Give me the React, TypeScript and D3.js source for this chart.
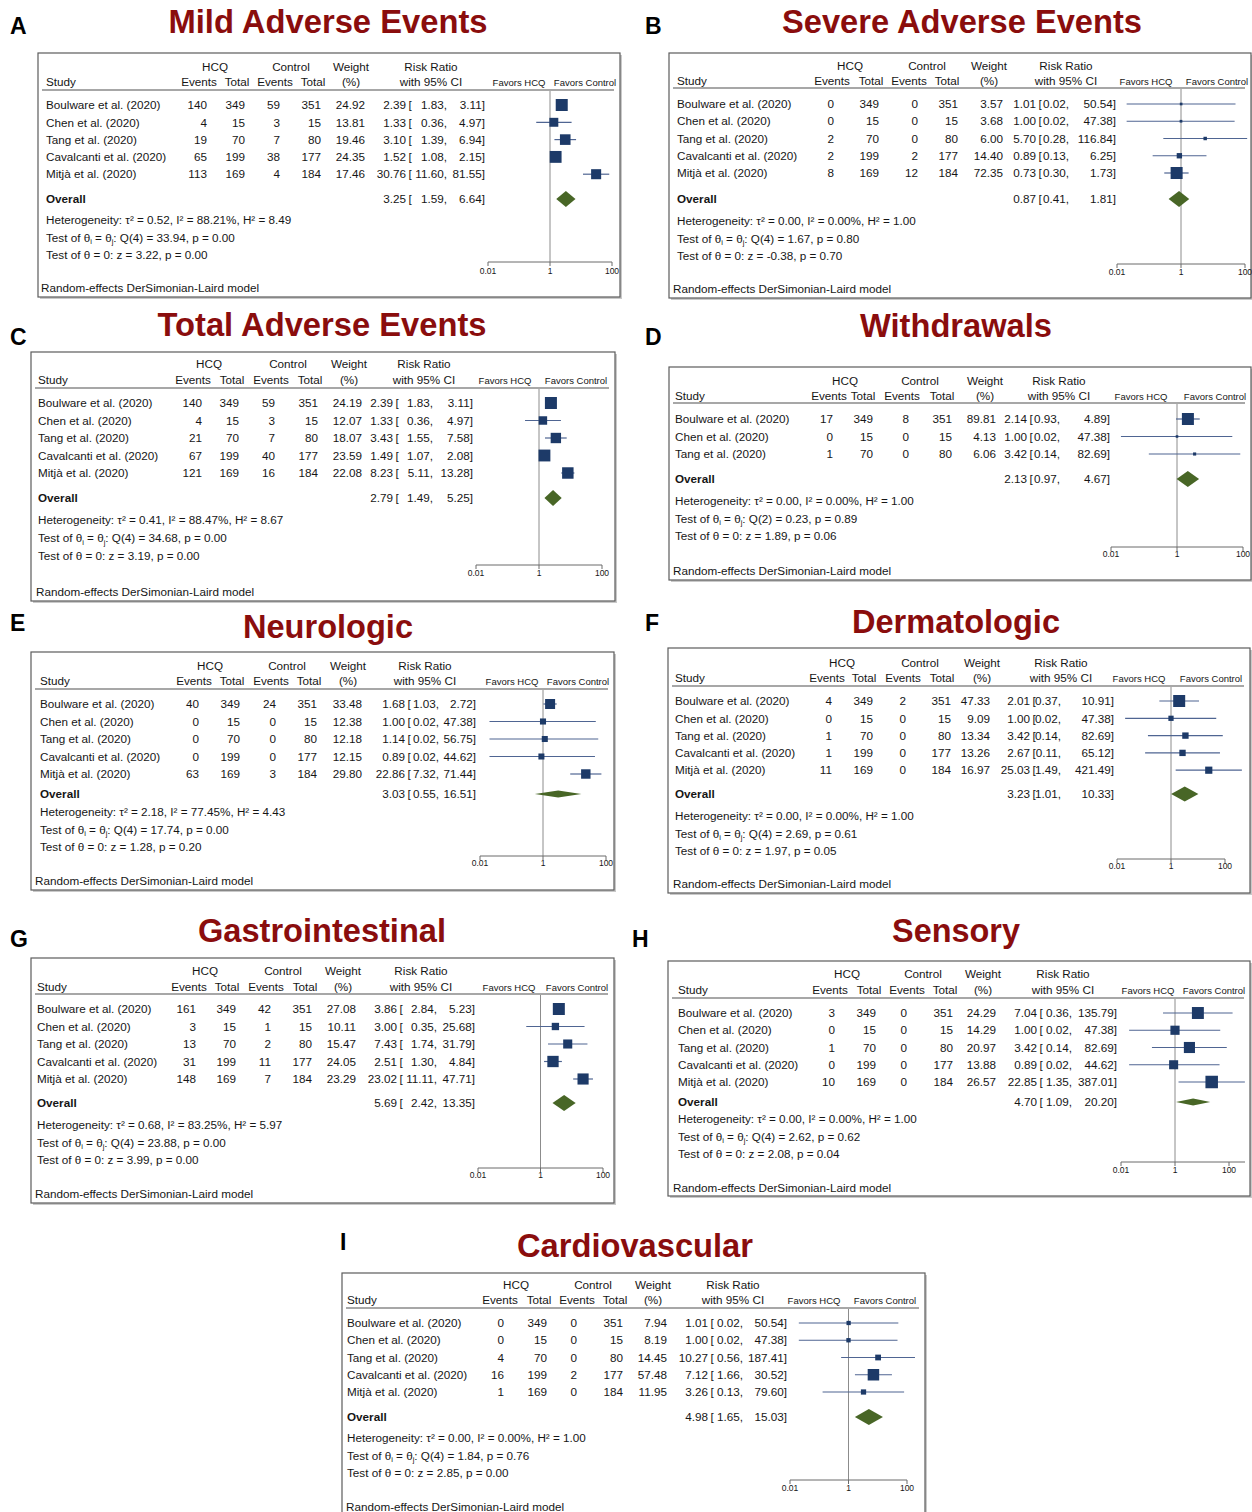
import React from "react";
import * as d3 from "d3";

// ---------- shared data ----------
const studyNames = [
  "Boulware et al. (2020)",
  "Chen et al. (2020)",
  "Tang et al. (2020)",
  "Cavalcanti et al. (2020)",
  "Mitjà et al. (2020)",
];
const hcqTotals = [349, 15, 70, 199, 169];
const controlTotals = [351, 15, 80, 177, 184];
const axisTicks = [0.01, 1, 100];
const axisTickLabels = ["0.01", "1", "100"];

// stats arrays: [tau2, I2 (%), H2, Q df, Q, p(Q), z, p(z)]

// A — Mild adverse events
const mildHcqEvents = [140, 4, 19, 65, 113];
const mildCtrlEvents = [59, 3, 7, 38, 4];
const mildWeight = [24.92, 13.81, 19.46, 24.35, 17.46];
const mildRR = [2.39, 1.33, 3.1, 1.52, 30.76];
const mildLo = [1.83, 0.36, 1.39, 1.08, 11.6];
const mildHi = [3.11, 4.97, 6.94, 2.15, 81.55];
const mildOverall = [3.25, 1.59, 6.64];
const mildStats = [0.52, 88.21, 8.49, 4, 33.94, 0.0, 3.22, 0.0];

// B — Severe adverse events
const severeHcqEvents = [0, 0, 2, 2, 8];
const severeCtrlEvents = [0, 0, 0, 2, 12];
const severeWeight = [3.57, 3.68, 6.0, 14.4, 72.35];
const severeRR = [1.01, 1.0, 5.7, 0.89, 0.73];
const severeLo = [0.02, 0.02, 0.28, 0.13, 0.3];
const severeHi = [50.54, 47.38, 116.84, 6.25, 1.73];
const severeOverall = [0.87, 0.41, 1.81];
const severeStats = [0.0, 0.0, 1.0, 4, 1.67, 0.8, -0.38, 0.7];

// C — Total adverse events
const totalHcqEvents = [140, 4, 21, 67, 121];
const totalCtrlEvents = [59, 3, 7, 40, 16];
const totalWeight = [24.19, 12.07, 18.07, 23.59, 22.08];
const totalRR = [2.39, 1.33, 3.43, 1.49, 8.23];
const totalLo = [1.83, 0.36, 1.55, 1.07, 5.11];
const totalHi = [3.11, 4.97, 7.58, 2.08, 13.28];
const totalOverall = [2.79, 1.49, 5.25];
const totalStats = [0.41, 88.47, 8.67, 4, 34.68, 0.0, 3.19, 0.0];

// D — Withdrawals (three trials)
const withdrawHcqEvents = [17, 0, 1];
const withdrawCtrlEvents = [8, 0, 0];
const withdrawWeight = [89.81, 4.13, 6.06];
const withdrawRR = [2.14, 1.0, 3.42];
const withdrawLo = [0.93, 0.02, 0.14];
const withdrawHi = [4.89, 47.38, 82.69];
const withdrawOverall = [2.13, 0.97, 4.67];
const withdrawStats = [0.0, 0.0, 1.0, 2, 0.23, 0.89, 1.89, 0.06];

// E — Neurologic
const neuroHcqEvents = [40, 0, 0, 0, 63];
const neuroCtrlEvents = [24, 0, 0, 0, 3];
const neuroWeight = [33.48, 12.38, 12.18, 12.15, 29.8];
const neuroRR = [1.68, 1.0, 1.14, 0.89, 22.86];
const neuroLo = [1.03, 0.02, 0.02, 0.02, 7.32];
const neuroHi = [2.72, 47.38, 56.75, 44.62, 71.44];
const neuroOverall = [3.03, 0.55, 16.51];
const neuroStats = [2.18, 77.45, 4.43, 4, 17.74, 0.0, 1.28, 0.2];

// F — Dermatologic
const dermHcqEvents = [4, 0, 1, 1, 11];
const dermCtrlEvents = [2, 0, 0, 0, 0];
const dermWeight = [47.33, 9.09, 13.34, 13.26, 16.97];
const dermRR = [2.01, 1.0, 3.42, 2.67, 25.03];
const dermLo = [0.37, 0.02, 0.14, 0.11, 1.49];
const dermHi = [10.91, 47.38, 82.69, 65.12, 421.49];
const dermOverall = [3.23, 1.01, 10.33];
const dermStats = [0.0, 0.0, 1.0, 4, 2.69, 0.61, 1.97, 0.05];

// G — Gastrointestinal
const giHcqEvents = [161, 3, 13, 31, 148];
const giCtrlEvents = [42, 1, 2, 11, 7];
const giWeight = [27.08, 10.11, 15.47, 24.05, 23.29];
const giRR = [3.86, 3.0, 7.43, 2.51, 23.02];
const giLo = [2.84, 0.35, 1.74, 1.3, 11.11];
const giHi = [5.23, 25.68, 31.79, 4.84, 47.71];
const giOverall = [5.69, 2.42, 13.35];
const giStats = [0.68, 83.25, 5.97, 4, 23.88, 0.0, 3.99, 0.0];

// H — Sensory
const sensHcqEvents = [3, 0, 1, 0, 10];
const sensCtrlEvents = [0, 0, 0, 0, 0];
const sensWeight = [24.29, 14.29, 20.97, 13.88, 26.57];
const sensRR = [7.04, 1.0, 3.42, 0.89, 22.85];
const sensLo = [0.36, 0.02, 0.14, 0.02, 1.35];
const sensHi = [135.79, 47.38, 82.69, 44.62, 387.01];
const sensOverall = [4.7, 1.09, 20.2];
const sensStats = [0.0, 0.0, 1.0, 4, 2.62, 0.62, 2.08, 0.04];

// I — Cardiovascular
const cardioHcqEvents = [0, 0, 4, 16, 1];
const cardioCtrlEvents = [0, 0, 0, 2, 0];
const cardioWeight = [7.94, 8.19, 14.45, 57.48, 11.95];
const cardioRR = [1.01, 1.0, 10.27, 7.12, 3.26];
const cardioLo = [0.02, 0.02, 0.56, 1.66, 0.13];
const cardioHi = [50.54, 47.38, 187.41, 30.52, 79.6];
const cardioOverall = [4.98, 1.65, 15.03];
const cardioStats = [0.0, 0.0, 1.0, 4, 1.84, 0.76, 2.85, 0.0];

const panels = [
  { letter: "A", title: "Mild Adverse Events", hcqEv: mildHcqEvents, ctrlEv: mildCtrlEvents, weight: mildWeight, rr: mildRR, lo: mildLo, hi: mildHi, overall: mildOverall, stats: mildStats },
  { letter: "B", title: "Severe Adverse Events", hcqEv: severeHcqEvents, ctrlEv: severeCtrlEvents, weight: severeWeight, rr: severeRR, lo: severeLo, hi: severeHi, overall: severeOverall, stats: severeStats },
  { letter: "C", title: "Total Adverse Events", hcqEv: totalHcqEvents, ctrlEv: totalCtrlEvents, weight: totalWeight, rr: totalRR, lo: totalLo, hi: totalHi, overall: totalOverall, stats: totalStats },
  { letter: "D", title: "Withdrawals", hcqEv: withdrawHcqEvents, ctrlEv: withdrawCtrlEvents, weight: withdrawWeight, rr: withdrawRR, lo: withdrawLo, hi: withdrawHi, overall: withdrawOverall, stats: withdrawStats },
  { letter: "E", title: "Neurologic", hcqEv: neuroHcqEvents, ctrlEv: neuroCtrlEvents, weight: neuroWeight, rr: neuroRR, lo: neuroLo, hi: neuroHi, overall: neuroOverall, stats: neuroStats },
  { letter: "F", title: "Dermatologic", hcqEv: dermHcqEvents, ctrlEv: dermCtrlEvents, weight: dermWeight, rr: dermRR, lo: dermLo, hi: dermHi, overall: dermOverall, stats: dermStats },
  { letter: "G", title: "Gastrointestinal", hcqEv: giHcqEvents, ctrlEv: giCtrlEvents, weight: giWeight, rr: giRR, lo: giLo, hi: giHi, overall: giOverall, stats: giStats },
  { letter: "H", title: "Sensory", hcqEv: sensHcqEvents, ctrlEv: sensCtrlEvents, weight: sensWeight, rr: sensRR, lo: sensLo, hi: sensHi, overall: sensOverall, stats: sensStats },
  { letter: "I", title: "Cardiovascular", hcqEv: cardioHcqEvents, ctrlEv: cardioCtrlEvents, weight: cardioWeight, rr: cardioRR, lo: cardioLo, hi: cardioHi, overall: cardioOverall, stats: cardioStats },
];

// ---------- layout per panel ----------
type Layout = {
  lx: number; ly: number; tx: number; ty: number; tw: number;
  box: [number, number, number, number];
  study: number; foot: number; hEv: number; hTot: number; cEv: number; cTot: number; wt: number;
  est: number; lo: number; hi: number;
  hHcq: number; hCtrl: number; hEv1: number; hTot1: number; hEv2: number; hTot2: number; hWt: number; hRR: number;
  fav: [number, number]; ax: [number, number]; axEnd?: number;
  h1: number; h2: number; line: number; row0: number; step: number; overallY: number;
  het0: number; hetStep: number; axisY: number; tickY: number; footY: number;
  sq: number; dia: number;
};

const layouts: Record<string, Layout> = {
  A: { lx: 10, ly: 34, tx: 328, ty: 33, tw: 319, box: [38, 53, 620, 297],
    study: 46, foot: 41, hEv: 207, hTot: 245, cEv: 280, cTot: 321, wt: 365, est: 406, lo: 447, hi: 485,
    hHcq: 215, hCtrl: 291, hEv1: 199, hTot1: 237, hEv2: 275, hTot2: 313, hWt: 351, hRR: 431,
    fav: [519, 585], ax: [488, 612],
    h1: 67, h2: 82, line: 90, row0: 105, step: 17.3, overallY: 199, het0: 220, hetStep: 17.5, axisY: 262, tickY: 271, footY: 288,
    sq: 12, dia: 8 },
  B: { lx: 645, ly: 34, tx: 962, ty: 33, tw: 360, box: [669, 53, 1251, 298],
    study: 677, foot: 673, hEv: 834, hTot: 879, cEv: 918, cTot: 958, wt: 1003, est: 1036, lo: 1069, hi: 1116,
    hHcq: 850, hCtrl: 927, hEv1: 832, hTot1: 871, hEv2: 909, hTot2: 947, hWt: 989, hRR: 1066,
    fav: [1146, 1217], ax: [1117, 1245],
    h1: 66, h2: 81, line: 88, row0: 104, step: 17.25, overallY: 199, het0: 221, hetStep: 17.5, axisY: 264, tickY: 272, footY: 289,
    sq: 12, dia: 8 },
  C: { lx: 10, ly: 345, tx: 322, ty: 336, tw: 329, box: [31, 352, 615, 601],
    study: 38, foot: 36, hEv: 202, hTot: 239, cEv: 275, cTot: 318, wt: 362, est: 393, lo: 433, hi: 473,
    hHcq: 209, hCtrl: 288, hEv1: 193, hTot1: 232, hEv2: 271, hTot2: 310, hWt: 349, hRR: 424,
    fav: [505, 576], ax: [476, 602],
    h1: 364, h2: 380, line: 388, row0: 403, step: 17.5, overallY: 498, het0: 520, hetStep: 18, axisY: 565, tickY: 573, footY: 592,
    sq: 12, dia: 8 },
  D: { lx: 645, ly: 345, tx: 956, ty: 337, tw: 192, box: [669, 367, 1251, 580],
    study: 675, foot: 673, hEv: 833, hTot: 873, cEv: 909, cTot: 952, wt: 996, est: 1027, lo: 1060, hi: 1110,
    hHcq: 845, hCtrl: 920, hEv1: 829, hTot1: 863, hEv2: 902, hTot2: 942, hWt: 985, hRR: 1059,
    fav: [1141, 1215], ax: [1111, 1243],
    h1: 381, h2: 396, line: 403, row0: 419, step: 17.5, overallY: 479, het0: 501, hetStep: 17.5, axisY: 547, tickY: 554, footY: 571,
    sq: 12, dia: 8 },
  E: { lx: 10, ly: 631, tx: 328, ty: 638, tw: 170, box: [31, 652, 614, 890],
    study: 40, foot: 35, hEv: 199, hTot: 240, cEv: 276, cTot: 317, wt: 362, est: 405, lo: 439, hi: 476,
    hHcq: 210, hCtrl: 287, hEv1: 194, hTot1: 232, hEv2: 271, hTot2: 309, hWt: 348, hRR: 425,
    fav: [512, 578], ax: [480, 606],
    h1: 666, h2: 681, line: 689, row0: 704, step: 17.5, overallY: 794, het0: 812, hetStep: 17.5, axisY: 856, tickY: 863, footY: 881,
    sq: 10, dia: 3.5 },
  F: { lx: 645, ly: 631, tx: 956, ty: 633, tw: 208, box: [668, 648, 1250, 893],
    study: 675, foot: 673, hEv: 832, hTot: 873, cEv: 906, cTot: 951, wt: 990, est: 1030, lo: 1061, hi: 1114,
    hHcq: 842, hCtrl: 920, hEv1: 827, hTot1: 864, hEv2: 903, hTot2: 942, hWt: 982, hRR: 1061,
    fav: [1139, 1211], ax: [1117, 1225],
    h1: 663, h2: 678, line: 686, row0: 701, step: 17.3, overallY: 794, het0: 816, hetStep: 17.3, axisY: 859, tickY: 866, footY: 884,
    sq: 12, dia: 7.5 },
  G: { lx: 10, ly: 947, tx: 322, ty: 942, tw: 248, box: [31, 958, 614, 1203],
    study: 37, foot: 35, hEv: 196, hTot: 236, cEv: 271, cTot: 312, wt: 356, est: 397, lo: 437, hi: 475,
    hHcq: 205, hCtrl: 283, hEv1: 189, hTot1: 227, hEv2: 266, hTot2: 305, hWt: 343, hRR: 421,
    fav: [509, 577], ax: [478, 603],
    h1: 971, h2: 987, line: 994, row0: 1009, step: 17.5, overallY: 1103, het0: 1125, hetStep: 17.5, axisY: 1168, tickY: 1175, footY: 1194,
    sq: 12, dia: 8 },
  H: { lx: 632, ly: 947, tx: 956, ty: 942, tw: 128, box: [668, 961, 1250, 1196],
    study: 678, foot: 673, hEv: 835, hTot: 876, cEv: 907, cTot: 953, wt: 996, est: 1037, lo: 1072, hi: 1117,
    hHcq: 847, hCtrl: 923, hEv1: 830, hTot1: 869, hEv2: 907, hTot2: 945, hWt: 983, hRR: 1063,
    fav: [1148, 1214], ax: [1121, 1229], axEnd: 1245,
    h1: 974, h2: 990, line: 998, row0: 1013, step: 17.25, overallY: 1102, het0: 1119, hetStep: 17.5, axisY: 1162, tickY: 1170, footY: 1188,
    sq: 12.5, dia: 3.5 },
  I: { lx: 340, ly: 1250, tx: 635, ty: 1257, tw: 236, box: [342, 1273, 925, 1522],
    study: 347, foot: 346, hEv: 504, hTot: 547, cEv: 577, cTot: 623, wt: 667, est: 708, lo: 743, hi: 787,
    hHcq: 516, hCtrl: 593, hEv1: 500, hTot1: 539, hEv2: 577, hTot2: 615, hWt: 653, hRR: 733,
    fav: [814, 885], ax: [790, 907],
    h1: 1285, h2: 1300, line: 1308, row0: 1323, step: 17.25, overallY: 1417, het0: 1438, hetStep: 17.5, axisY: 1480, tickY: 1488, footY: 1507,
    sq: 11.5, dia: 8 },
};

// ---------- styles ----------
const FONT = "'Liberation Sans', Arial, Helvetica, sans-serif";
const TEXT = "#161616";
const TITLE_RED = "#8a0d0d";
const MARKER = "#1d3a68";
const CI_LINE = "#4f6592";
const DIAMOND = "#486626";
const REF_LINE = "#8c8c8c";
const FS = 11.7;
const BASE = 4.2;

function ForestPanel({ d, L }: { d: any; L: Layout }) {
  const x = d3.scaleLog().domain([0.01, 100]).range(L.ax);
  const [bx0, by0, bx1, by1] = L.box;
  const wmax = d3.max(d.weight as number[]) as number;
  const side = (w: number) => L.sq * Math.sqrt(w / wmax);
  const rowY = (i: number) => L.row0 + i * L.step;
  const hetY = (i: number) => L.het0 + i * L.hetStep;
  const f2 = (v: number) => v.toFixed(2);
  const cx = (v: number) => Math.min(bx1 - 2, Math.max(bx0 + 2, x(v)));
  const [t2, i2, h2, df, q, pq, z, pz] = d.stats;
  const [oEst, oLo, oHi] = d.overall;
  const oy = L.overallY;
  const diamond = d3.line()([
    [x(oLo), oy],
    [x(oEst), oy - L.dia],
    [x(oHi), oy],
    [x(oEst), oy + L.dia],
  ]) + "Z";

  return (
    <g fontFamily={FONT}>
      <text x={L.lx} y={L.ly} fontSize={23} fontWeight="bold" fill="#000">{d.letter}</text>
      <text x={L.tx} y={L.ty} fontSize={33} fontWeight="bold" fill={TITLE_RED} textAnchor="middle"
        textLength={L.tw} lengthAdjust="spacingAndGlyphs">{d.title}</text>

      {/* framed box with drop shadow */}
      <rect x={bx0 + 2} y={by0 + 2} width={bx1 - bx0} height={by1 - by0} fill="#c9c9c9" />
      <rect x={bx0} y={by0} width={bx1 - bx0} height={by1 - by0} fill="#fff" stroke="#5c5c5c" strokeWidth={1.2} />

      <g fontSize={FS} fill={TEXT}>
        {/* column headers */}
        <text x={L.hHcq} y={L.h1 + BASE} textAnchor="middle">HCQ</text>
        <text x={L.hCtrl} y={L.h1 + BASE} textAnchor="middle">Control</text>
        <text x={L.hWt} y={L.h1 + BASE} textAnchor="middle">Weight</text>
        <text x={L.hRR} y={L.h1 + BASE} textAnchor="middle">Risk Ratio</text>
        <text x={L.study} y={L.h2 + BASE}>Study</text>
        <text x={L.hEv1} y={L.h2 + BASE} textAnchor="middle">Events</text>
        <text x={L.hTot1} y={L.h2 + BASE} textAnchor="middle">Total</text>
        <text x={L.hEv2} y={L.h2 + BASE} textAnchor="middle">Events</text>
        <text x={L.hTot2} y={L.h2 + BASE} textAnchor="middle">Total</text>
        <text x={L.hWt} y={L.h2 + BASE} textAnchor="middle">(%)</text>
        <text x={L.hRR} y={L.h2 + BASE} textAnchor="middle">with 95% CI</text>
        <text x={L.fav[0]} y={L.h2 + 3.6} textAnchor="middle" fontSize={9.5}>Favors HCQ</text>
        <text x={L.fav[1]} y={L.h2 + 3.6} textAnchor="middle" fontSize={9.5}>Favors Control</text>
      </g>
      <line x1={bx0 + 4} x2={bx1 - 6} y1={L.line} y2={L.line} stroke="#8a8a8a" strokeWidth={1.5} />

      {/* reference line at RR = 1 */}
      <line x1={x(1)} x2={x(1)} y1={L.line + 1} y2={L.axisY} stroke={REF_LINE} strokeWidth={1} />

      {/* study rows */}
      {d.rr.map((r: number, i: number) => {
        const y = rowY(i);
        const s = side(d.weight[i]);
        return (
          <g key={i}>
            <g fontSize={FS} fill={TEXT}>
              <text x={L.study} y={y + BASE}>{studyNames[i]}</text>
              <text x={L.hEv} y={y + BASE} textAnchor="end">{d.hcqEv[i]}</text>
              <text x={L.hTot} y={y + BASE} textAnchor="end">{hcqTotals[i]}</text>
              <text x={L.cEv} y={y + BASE} textAnchor="end">{d.ctrlEv[i]}</text>
              <text x={L.cTot} y={y + BASE} textAnchor="end">{controlTotals[i]}</text>
              <text x={L.wt} y={y + BASE} textAnchor="end">{f2(d.weight[i])}</text>
              <text x={L.est} y={y + BASE} textAnchor="end">{f2(r)}</text>
              <text x={L.est + 2.5} y={y + BASE}>[</text>
              <text x={L.lo} y={y + BASE} textAnchor="end">{f2(d.lo[i]) + ","}</text>
              <text x={L.hi} y={y + BASE} textAnchor="end">{f2(d.hi[i]) + "]"}</text>
            </g>
            <line x1={cx(d.lo[i])} x2={cx(d.hi[i])} y1={y} y2={y} stroke={CI_LINE} strokeWidth={1.2} />
            <rect x={x(r) - s / 2} y={y - s / 2} width={s} height={s} fill={MARKER} />
          </g>
        );
      })}

      {/* overall estimate */}
      <g fontSize={FS} fill={TEXT}>
        <text x={L.study} y={oy + BASE} fontWeight="bold">Overall</text>
        <text x={L.est} y={oy + BASE} textAnchor="end">{f2(oEst)}</text>
        <text x={L.est + 2.5} y={oy + BASE}>[</text>
        <text x={L.lo} y={oy + BASE} textAnchor="end">{f2(oLo) + ","}</text>
        <text x={L.hi} y={oy + BASE} textAnchor="end">{f2(oHi) + "]"}</text>
      </g>
      <path d={diamond} fill={DIAMOND} />

      {/* heterogeneity and tests */}
      <g fontSize={FS} fill={TEXT}>
        <text x={L.study} y={hetY(0) + BASE}>
          {`Heterogeneity: τ² = ${f2(t2)}, I² = ${f2(i2)}%, H² = ${f2(h2)}`}
        </text>
        <text x={L.study} y={hetY(1) + BASE}>
          Test of θ<tspan fontSize={7.5} dy={2.5}>i</tspan>
          <tspan dy={-2.5}> = θ</tspan>
          <tspan fontSize={7.5} dy={2.5}>j</tspan>
          <tspan dy={-2.5}>{`: Q(${df}) = ${f2(q)}, p = ${f2(pq)}`}</tspan>
        </text>
        <text x={L.study} y={hetY(2) + BASE}>{`Test of θ = 0: z = ${f2(z)}, p = ${f2(pz)}`}</text>
      </g>

      {/* log axis */}
      <line x1={x(0.01)} x2={L.axEnd ?? x(100)} y1={L.axisY} y2={L.axisY} stroke="#6a6a6a" strokeWidth={1} />
      {axisTicks.map((t, k) => (
        <g key={t}>
          <line x1={x(t)} x2={x(t)} y1={L.axisY} y2={L.axisY + 4} stroke="#6a6a6a" strokeWidth={1} />
          <text x={x(t)} y={L.tickY + 3} fontSize={8.5} textAnchor="middle" fill={TEXT}>{axisTickLabels[k]}</text>
        </g>
      ))}

      <text x={L.foot} y={L.footY + BASE} fontSize={FS} fill={TEXT}>Random-effects DerSimonian-Laird model</text>
    </g>
  );
}

export default function App() {
  return (
    <svg width={1252} height={1512} style={{ position: "absolute", left: 0, top: 0, background: "#fff" }}>
      <rect width={1252} height={1512} fill="#fff" />
      {panels.map((p) => (
        <ForestPanel key={p.letter} d={p} L={layouts[p.letter]} />
      ))}
    </svg>
  );
}
